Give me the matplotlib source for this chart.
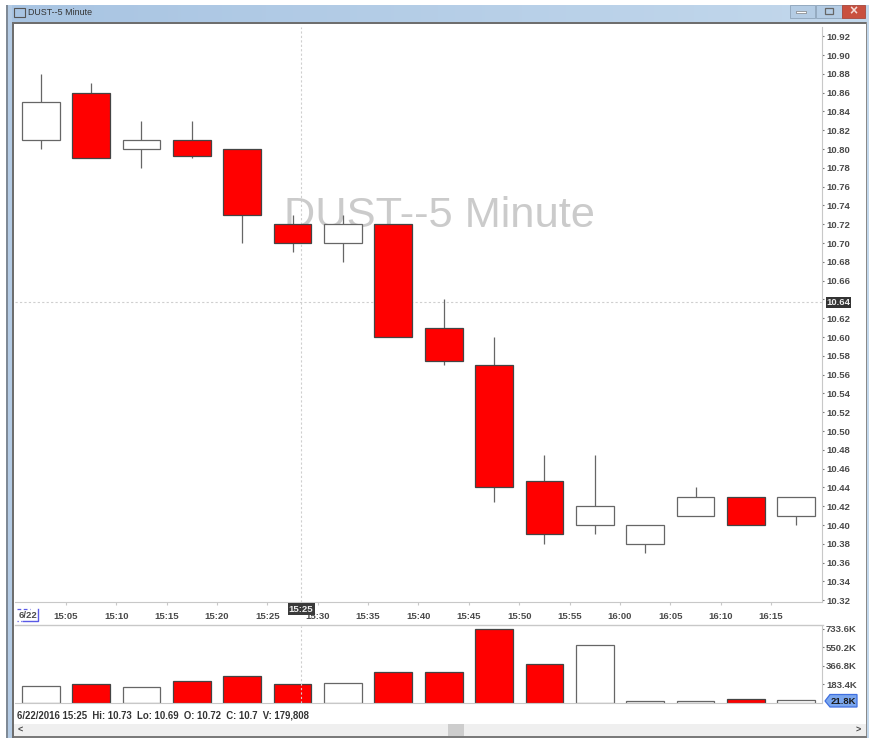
#!/usr/bin/env python3
# coding: utf-8

import numpy as np
import matplotlib
matplotlib.use('Agg')
import matplotlib.pyplot as plt
from matplotlib.patches import Rectangle, Polygon

plt.rcParams['font.family'] = ['Liberation Sans', 'DejaVu Sans']

W, H = 870, 738

# minutes after 15:00, bar start
bar_minutes = [0, 5, 10, 15, 20, 25, 30, 35, 40, 45, 50, 55, 60, 65, 70, 75]
opens = [10.81, 10.86, 10.80, 10.81, 10.80, 10.72, 10.70, 10.72, 10.61, 10.57, 10.447, 10.40, 10.38, 10.41, 10.43, 10.41]
closes = [10.85, 10.79, 10.81, 10.793, 10.73, 10.70, 10.72, 10.60, 10.575, 10.44, 10.39, 10.42, 10.40, 10.43, 10.40, 10.43]
highs = [10.88, 10.87, 10.83, 10.83, 10.80, 10.73, 10.73, 10.72, 10.64, 10.60, 10.475, 10.475, 10.40, 10.44, 10.43, 10.43]
lows = [10.80, 10.79, 10.78, 10.79, 10.70, 10.69, 10.68, 10.60, 10.57, 10.425, 10.38, 10.39, 10.37, 10.41, 10.40, 10.40]
volumes = [165, 180, 155, 215, 265, 180, 195, 305, 305, 733, 385, 575, 12, 12, 35, 21.8]

price_ticks = [10.92, 10.90, 10.88, 10.86, 10.84, 10.82, 10.80, 10.78, 10.76, 10.74, 10.72, 10.70, 10.68,
               10.66, 10.64, 10.62, 10.60, 10.58, 10.56, 10.54, 10.52, 10.50, 10.48, 10.46, 10.44, 10.42,
               10.40, 10.38, 10.36, 10.34, 10.32]
time_ticks = [5, 10, 15, 20, 25, 30, 35, 40, 45, 50, 55, 60, 65, 70, 75]
time_labels = ['15:05', '15:10', '15:15', '15:20', '15:25', '15:30', '15:35', '15:40', '15:45', '15:50',
               '15:55', '16:00', '16:05', '16:10', '16:15']
vol_ticks = [183.4, 366.8, 550.2, 733.6]
vol_labels = ['183.4K', '366.8K', '550.2K', '733.6K']
last_volume = 21.8

cross_minute = 28.35
cross_price = 10.637
status = '6/22/2016 15:25  Hi: 10.73  Lo: 10.69  O: 10.72  C: 10.7  V: 179,808'

TXT = '#4a4a4a'
FS = 6.8
HAIR = '#cfcfcf'


def px_axes(fig, left, top, right, bottom):
    return fig.add_axes([left / W, 1 - bottom / H, (right - left) / W, (bottom - top) / H])


fig = plt.figure(figsize=(W / 100, H / 100), dpi=100, facecolor='white')

# window frame
bg = fig.add_axes([0, 0, 1, 1], zorder=0)
grad = np.linspace(0, 1, 256).reshape(1, -1)
bg.imshow(grad, extent=(6, 870, 22, 5), aspect='auto',
          cmap=matplotlib.colors.LinearSegmentedColormap.from_list('t', ['#a8c4e2', '#c3d8ec']))
bg.set_xlim(0, W)
bg.set_ylim(H, 0)
bg.axis('off')
bg.add_patch(Rectangle((6, 5), 2, 733, fc='#7f8a96', ec='none'))
bg.add_patch(Rectangle((8, 5), 4, 733, fc='#b4cbe4', ec='none'))
bg.add_patch(Rectangle((12, 22), 2, 716, fc='#6e6e6e', ec='none'))
bg.add_patch(Rectangle((14, 22), 853, 2, fc='#6e6e6e', ec='none'))
bg.add_patch(Rectangle((867, 22), 3, 716, fc='#c3d8ec', ec='none'))
bg.add_patch(Rectangle((866, 22), 1, 716, fc='#8a8a8a', ec='none'))
bg.add_patch(Rectangle((14, 736), 853, 2, fc='#7a7a7a', ec='none'))
bg.add_patch(Rectangle((14, 724), 852, 12, fc='#efefef', ec='none'))
bg.add_patch(Rectangle((448, 724), 16, 12, fc='#cdcdcd', ec='none'))
bg.text(20, 730, '<', fontsize=6.5, color='#444444', ha='center', va='center', weight='bold')
bg.text(858, 730, '>', fontsize=6.5, color='#444444', ha='center', va='center', weight='bold')
# title bar icon, caption and buttons
bg.add_patch(Rectangle((14, 8), 11, 9, fc='none', ec='#555555', lw=0.8))
bg.text(28, 12.5, 'DUST--5 Minute', fontsize=6.4, color='#333333', va='center')
bg.add_patch(Rectangle((790, 5), 25, 13, fc='#b4cce4', ec='#8ea4ba', lw=0.6))
bg.add_patch(Rectangle((816, 5), 26, 13, fc='#b4cce4', ec='#8ea4ba', lw=0.6))
bg.add_patch(Rectangle((842, 5), 23, 13, fc='#c9503f', ec='#a8483c', lw=0.6))
bg.add_patch(Rectangle((796, 11), 10, 2, fc='white', ec='#666666', lw=0.4))
bg.add_patch(Rectangle((825, 8), 8, 6, fc='none', ec='#666666', lw=0.9))
bg.text(853, 11.5, '×', fontsize=10, color='#f4dcd8', ha='center', va='center', weight='bold')
# pane separators
bg.plot([15, 823], [625, 625], color='#c8c8c8', lw=1)
bg.text(17, 716, status, fontsize=6.95, color='#333333', va='center', weight='bold')

# price panel, 18.77 px per 0.02
px_per_price = 18.77 / 0.02
ax = px_axes(fig, 15.5, 27, 822.5, 602)
ax.set_zorder(2)
ax.patch.set_alpha(0)
ax.set_xlim(0, 80.1)
ax.set_ylim(10.92 - (601.6 - 36.7) / px_per_price, 10.92 + (36.7 - 27.4) / px_per_price)

x_mid = np.array(bar_minutes) + 2.5
bar_w = 3.75
for x, o, c, h, l in zip(x_mid, opens, closes, highs, lows):
    up = c >= o
    edge = '#666666' if up else '#444444'
    ax.vlines(x, l, h, color='#666666', lw=0.9, zorder=2)
    ax.bar(x, abs(c - o), bottom=min(o, c), width=bar_w, facecolor='white' if up else '#ff0000',
           edgecolor=edge, linewidth=0.9, zorder=3)

ax.axvline(cross_minute, color=HAIR, lw=0.8, ls=(0, (2, 2)), zorder=1)
ax.axhline(cross_price, color=HAIR, lw=0.8, ls=(0, (2, 2)), zorder=1)
ax.text(0.3323, 0.6717, 'DUST--5 Minute', transform=ax.transAxes, fontsize=31.2, color='#cbcbcb',
        ha='left', va='center', zorder=1.5)

for s in ['top', 'left']:
    ax.spines[s].set_visible(False)
ax.spines['right'].set_color('#c8c8c8')
ax.spines['bottom'].set_color('#c8c8c8')
ax.yaxis.tick_right()
ax.set_yticks(price_ticks)
# 10.64 sits under the crosshair tag, so the tag carries that label
ax.set_yticklabels(['' if p == 10.64 else '%.2f' % p for p in price_ticks], fontsize=FS, color=TXT, weight='bold')
ax.tick_params(axis='y', length=1.5, width=0.8, color='#777777', pad=1)
ax.set_xticks(time_ticks)
ax.set_xticklabels(time_labels, fontsize=FS, color=TXT, weight='bold')
ax.tick_params(axis='x', length=2, width=0.8, color='#c8c8c8', pad=5.5)

# crosshair tags and date label
ax.annotate('%.2f' % cross_price, xy=(1, cross_price), xycoords=('axes fraction', 'data'), xytext=(4, 0),
            textcoords='offset pixels', fontsize=FS, color='#eeeeee', weight='bold', ha='left', va='center',
            bbox=dict(boxstyle='square,pad=0.1', fc='#333333', ec='none'), zorder=6, annotation_clip=False)
ax.annotate('15:25', xy=(cross_minute, 0), xycoords=('data', 'axes fraction'), xytext=(0, -7),
            textcoords='offset pixels', fontsize=FS, color='#eeeeee', weight='bold', ha='center', va='center',
            bbox=dict(boxstyle='square,pad=0.12', fc='#3a3a3a', ec='none'), zorder=6, annotation_clip=False)
bg.text(19, 615, '6/22', fontsize=FS, color=TXT, weight='bold', va='center')
bg.plot([17, 30], [609, 609], color='#5a5ae6', lw=0.9, ls=(0, (3, 2)))
bg.plot([23, 38.5, 38.5], [621, 621, 609], color='#5a5ae6', lw=1)
bg.plot([17, 23], [621, 621], color='#5a5ae6', lw=0.9, ls=(0, (1, 2)))

# volume panel
vx = px_axes(fig, 15.5, 626, 822.5, 703)
vx.set_zorder(2)
vx.patch.set_alpha(0)
vx.set_xlim(0, 80.1)
vx.set_ylim(-0.5 / 0.1008, 76.5 / 0.1008)
for x, o, c, v in zip(x_mid, opens, closes, volumes):
    up = c >= o
    edge = '#666666' if up else '#444444'
    vx.bar(x, v, width=bar_w, facecolor='white' if up else '#ff0000', edgecolor=edge, linewidth=0.9)
vx.axvline(cross_minute, color=HAIR, lw=0.8, ls=(0, (2, 2)), zorder=1)
for s in ['top', 'left']:
    vx.spines[s].set_visible(False)
vx.spines['right'].set_color('#c8c8c8')
vx.spines['bottom'].set_color('#c8c8c8')
vx.set_xticks([])
vx.yaxis.tick_right()
vx.set_yticks(vol_ticks)
vx.set_yticklabels(vol_labels, fontsize=FS, color=TXT, weight='bold')
vx.tick_params(axis='y', length=1.5, width=0.8, color='#777777', pad=1)

# last volume tag
bg.add_patch(Polygon([(825, 701), (830, 694.5), (857, 694.5), (857, 707), (830, 707)], closed=True,
                     fc='#7aa6ee', ec='#3f6fe0', lw=0.9, zorder=5))
bg.text(831, 701, '%.1fK' % last_volume, fontsize=FS, color='#1a1a1a', weight='bold', va='center', zorder=6)
bg.set_zorder(3)
bg.patch.set_alpha(0)

fig.savefig('out.png', dpi=100)
